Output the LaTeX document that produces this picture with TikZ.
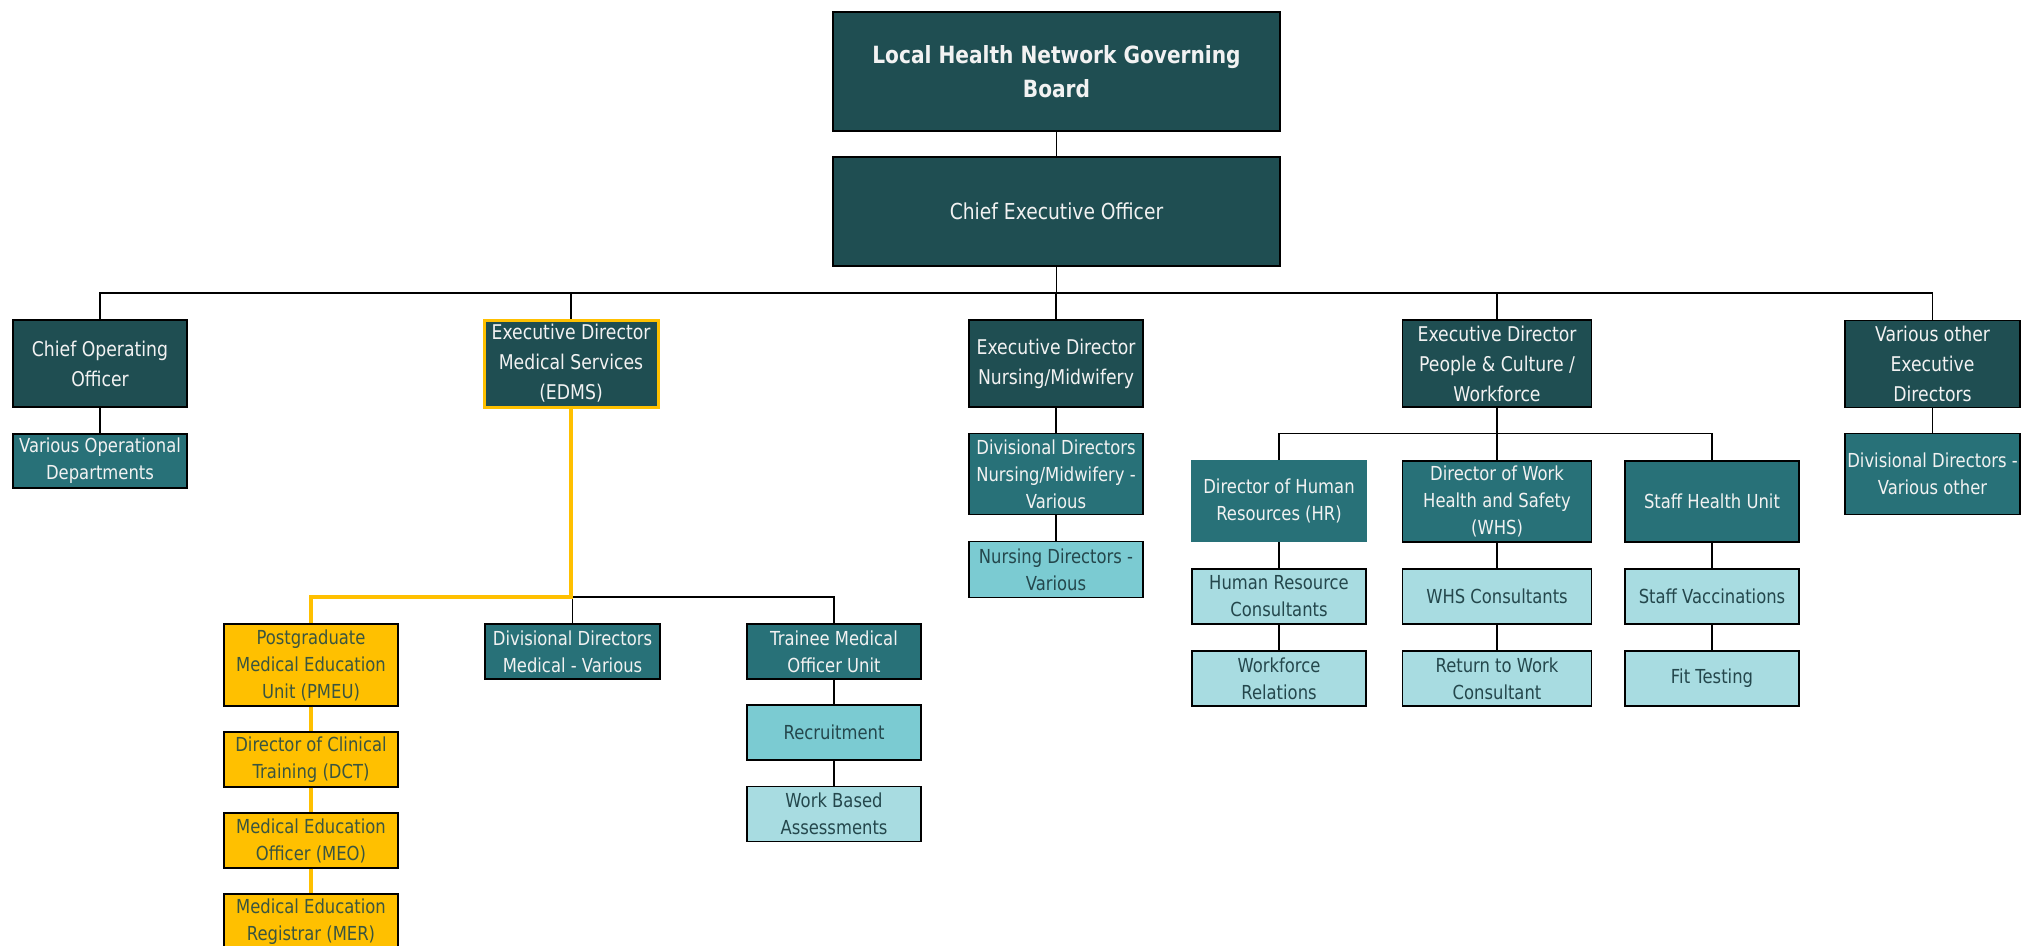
\documentclass[tikz,border=0pt]{standalone}
\usepackage{fontspec}
\setmainfont{DejaVu Sans}[FakeStretch=0.85]
\definecolor{dk}{HTML}{1F4E52}
\definecolor{md}{HTML}{287178}
\definecolor{lt}{HTML}{7BCBD2}
\definecolor{lr}{HTML}{A8DCE1}
\definecolor{yl}{HTML}{FFC000}
\definecolor{txd}{HTML}{24474C}
\definecolor{txy}{HTML}{3A5540}
\definecolor{txw}{HTML}{F2F2F2}
\tikzset{
  box/.style={rectangle, draw=black, line width=1.3pt, inner sep=0pt, align=center},
  dkbox/.style={box, fill=dk, text=txw, font=\fontsize{20.3}{30}\selectfont},
  mdbox/.style={box, fill=md, text=txw, font=\fontsize{19.3}{27}\selectfont},
  ltbox/.style={box, fill=lt, text=txd, font=\fontsize{19.3}{27}\selectfont},
  lrbox/.style={box, fill=lr, text=txd, font=\fontsize{19.3}{27}\selectfont},
  ylbox/.style={box, fill=yl, text=txy, font=\fontsize{19.3}{27}\selectfont},
  conn/.style={draw=black, line width=1.5pt},
  yconn/.style={draw=yl, line width=4pt},
}
\begin{document}
\begin{tikzpicture}[x=1pt,y=-1pt]
\useasboundingbox[fill=white] (0,0) rectangle (2031,945);
% top
\node[dkbox, minimum width=447, minimum height=119, font=\bfseries\fontsize{23.7}{34}\selectfont] (lhn) at (1056.5,71.5) {Local Health Network Governing\\Board};
\node[dkbox, minimum width=447, minimum height=109, font=\fontsize{22}{30}\selectfont] (ceo) at (1056.5,211.5) {Chief Executive Officer};
% level 1
\node[dkbox, minimum width=174, minimum height=87] (coo) at (100,363.5) {Chief Operating\\Officer};
\node[dkbox, minimum width=174, minimum height=87, draw=yl, line width=3pt] (edms) at (571,363.5) {Executive Director\\Medical Services\\(EDMS)};
\node[dkbox, minimum width=174, minimum height=87] (ednm) at (1056,363.5) {Executive Director\\Nursing/Midwifery};
\node[dkbox, minimum width=189, minimum height=87] (edpc) at (1497,363.5) {Executive Director\\People \& Culture /\\Workforce};
\node[dkbox, minimum width=175, minimum height=87] (voed) at (1932.5,364) {Various other\\Executive\\Directors};
% level 2
\node[mdbox, minimum width=174, minimum height=54] (vod) at (100,461) {Various Operational\\Departments};
\node[mdbox, minimum width=174, minimum height=81] (ddnm) at (1056,474) {Divisional Directors\\Nursing/Midwifery -\\Various};
\node[ltbox, minimum width=174, minimum height=56] (ndv) at (1056,569.5) {Nursing Directors -\\Various};
\node[mdbox, minimum width=175, minimum height=81] (ddvo) at (1932.5,474) {Divisional Directors -\\Various other};
% people & culture
\node[mdbox, minimum width=174, minimum height=81, draw=md] (hr) at (1279,501) {Director of Human\\Resources (HR)};
\node[mdbox, minimum width=189, minimum height=81] (whs) at (1497,501.5) {Director of Work\\Health and Safety\\(WHS)};
\node[mdbox, minimum width=174, minimum height=81] (shu) at (1712,501.5) {Staff Health Unit};
\node[lrbox, minimum width=174, minimum height=55] (hrc) at (1279,596.5) {Human Resource\\Consultants};
\node[lrbox, minimum width=189, minimum height=55] (whsc) at (1497,596.5) {WHS Consultants};
\node[lrbox, minimum width=174, minimum height=55] (sv) at (1712,596.5) {Staff Vaccinations};
\node[lrbox, minimum width=174, minimum height=55] (wr) at (1279,678.5) {Workforce\\Relations};
\node[lrbox, minimum width=189, minimum height=55] (rtw) at (1497,678.5) {Return to Work\\Consultant};
\node[lrbox, minimum width=174, minimum height=55] (ft) at (1712,678.5) {Fit Testing};
% medical services
\node[ylbox, minimum width=174, minimum height=82] (pmeu) at (311,665) {Postgraduate\\Medical Education\\Unit (PMEU)};
\node[ylbox, minimum width=174, minimum height=55] (dct) at (311,759.5) {Director of Clinical\\Training (DCT)};
\node[ylbox, minimum width=174, minimum height=55] (meo) at (311,840.5) {Medical Education\\Officer (MEO)};
\node[ylbox, minimum width=174, minimum height=55] (mer) at (311,921.5) {Medical Education\\Registrar (MER)};
\node[mdbox, minimum width=175, minimum height=55] (ddmed) at (572.5,651.5) {Divisional Directors\\Medical - Various};
\node[mdbox, minimum width=174, minimum height=55] (tmou) at (834,651.5) {Trainee Medical\\Officer Unit};
\node[ltbox, minimum width=174, minimum height=55] (rec) at (834,732.5) {Recruitment};
\node[lrbox, minimum width=174, minimum height=55] (wba) at (834,814) {Work Based\\Assessments};
% bus coordinates
\coordinate (bus) at (0,293);
\coordinate (bus2) at (0,433.5);
\coordinate (bus3) at (0,597);
% connectors
\draw[conn] (lhn.south) -- (ceo.north);
\draw[conn] (ceo.south) -- (ceo.south |- bus);
\draw[conn] (coo.north) -- (coo.north |- bus) -- (voed.north |- bus) -- (voed.north);
\draw[conn] (edms.north) -- (edms.north |- bus);
\draw[conn] (ednm.north) -- (ednm.north |- bus);
\draw[conn] (edpc.north) -- (edpc.north |- bus);
\draw[conn] (coo.south) -- (vod.north);
\draw[conn] (ednm.south) -- (ddnm.north);
\draw[conn] (ddnm.south) -- (ndv.north);
\draw[conn] (voed.south) -- (ddvo.north);
\draw[conn] (edpc.south) -- (edpc.south |- bus2);
\draw[conn] (hr.north) -- (hr.north |- bus2) -- (shu.north |- bus2) -- (shu.north);
\draw[conn] (whs.north) -- (whs.north |- bus2);
\draw[conn] (hr.south) -- (hrc.north);
\draw[conn] (hrc.south) -- (wr.north);
\draw[conn] (whs.south) -- (whsc.north);
\draw[conn] (whsc.south) -- (rtw.north);
\draw[conn] (shu.south) -- (sv.north);
\draw[conn] (sv.south) -- (ft.north);
\draw[conn] (edms.south |- bus3) -- (tmou.north |- bus3) -- (tmou.north);
\draw[conn] (ddmed.north) -- (ddmed.north |- bus3);
\draw[conn] (tmou.south) -- (rec.north);
\draw[conn] (rec.south) -- (wba.north);
\draw[yconn] (edms.south) -- (edms.south |- bus3) -- (pmeu.north |- bus3) -- (pmeu.north);
\draw[yconn] (pmeu.south) -- (dct.north);
\draw[yconn] (dct.south) -- (meo.north);
\draw[yconn] (meo.south) -- (mer.north);
\end{tikzpicture}
\end{document}
